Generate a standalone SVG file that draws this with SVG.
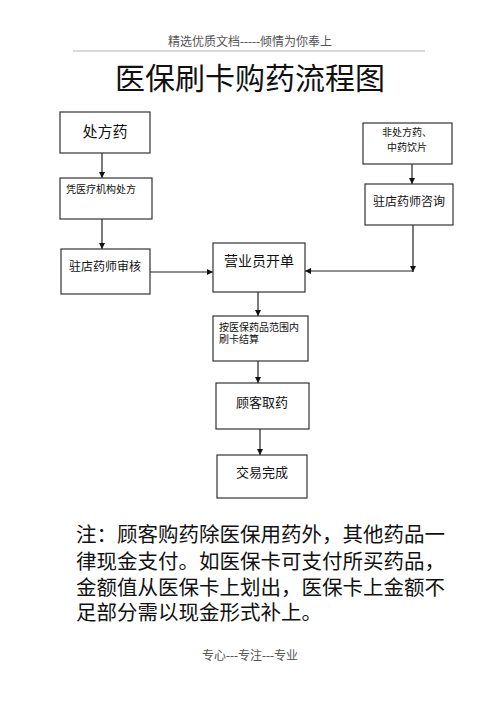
<svg xmlns="http://www.w3.org/2000/svg" width="500" height="708" viewBox="0 0 500 708">
<style>
text{font-family:"Liberation Serif","Noto Sans CJK SC",serif;fill:#111}
.box{fill:#fff;stroke:#333;stroke-width:1.2}
.ln{stroke:#222;stroke-width:1.2;fill:none}
.hd{font-size:12px;fill:#555;text-anchor:middle}
.c{text-anchor:middle}
</style>
<defs>
<marker id="ah" viewBox="0 0 10 10" refX="10" refY="5" markerWidth="5" markerHeight="5" orient="auto">
<path d="M0,0 L10,5 L0,10 z" fill="#111"/>
</marker>
</defs>
<rect width="500" height="708" fill="#fff"/>
<text class="hd" x="250" y="46">精选优质文档-----倾情为你奉上</text>
<line x1="73" y1="51" x2="425" y2="51" stroke="#ccc" stroke-width="1.5"/>
<text class="c" x="250" y="89" font-size="30">医保刷卡购药流程图</text>

<g id="connectors">
<line class="ln" x1="102" y1="153" x2="102" y2="178" marker-end="url(#ah)"/>
<line class="ln" x1="102" y1="219" x2="102" y2="249" marker-end="url(#ah)"/>
<line class="ln" x1="150" y1="272" x2="213" y2="272" marker-end="url(#ah)"/>
<line class="ln" x1="412" y1="164" x2="412" y2="184" marker-end="url(#ah)"/>
<line class="ln" x1="413" y1="225" x2="413" y2="272" marker-end="url(#ah)"/>
<line class="ln" x1="413" y1="271" x2="305" y2="271" marker-end="url(#ah)"/>
<line class="ln" x1="258" y1="292" x2="258" y2="316" marker-end="url(#ah)"/>
<line class="ln" x1="258" y1="361" x2="258" y2="383" marker-end="url(#ah)"/>
<line class="ln" x1="260" y1="429" x2="260" y2="455" marker-end="url(#ah)"/>
</g>

<g id="n1"><rect class="box" x="60" y="112" width="90" height="41"/><text class="c" x="105" y="137" font-size="15">处方药</text></g>
<g id="n2"><rect class="box" x="60" y="178" width="92" height="41"/><text x="66" y="193" font-size="10">凭医疗机构处方</text></g>
<g id="n3"><rect class="box" x="61" y="249" width="89" height="45"/><text class="c" x="105" y="271" font-size="12">驻店药师审核</text></g>
<g id="n4"><rect class="box" x="363" y="123" width="89" height="41"/><text class="c" x="407" y="136" font-size="10">非处方药、</text><text class="c" x="407" y="151" font-size="10">中药饮片</text></g>
<g id="n5"><rect class="box" x="365" y="184" width="88" height="41"/><text class="c" x="409" y="206" font-size="12">驻店药师咨询</text></g>
<g id="n6"><rect class="box" x="213" y="243" width="92" height="49"/><text class="c" x="259" y="266" font-size="14">营业员开单</text></g>
<g id="n7"><rect class="box" x="213" y="316" width="95" height="45"/><text x="219" y="331" font-size="10">按医保药品范围内</text><text x="219" y="343" font-size="10">刷卡结算</text></g>
<g id="n8"><rect class="box" x="216" y="383" width="93" height="46"/><text class="c" x="262" y="407" font-size="13">顾客取药</text></g>
<g id="n9"><rect class="box" x="217" y="455" width="90" height="43"/><text class="c" x="262" y="477" font-size="13">交易完成</text></g>

<g id="note" font-size="20.5">
<text x="76" y="542">注：顾客购药除医保用药外，其他药品一</text>
<text x="76" y="569">律现金支付。如医保卡可支付所买药品，</text>
<text x="76" y="595">金额值从医保卡上划出，医保卡上金额不</text>
<text x="76" y="620">足部分需以现金形式补上。</text>
</g>
<text class="hd" x="250" y="660" font-size="11">专心---专注---专业</text>
</svg>
